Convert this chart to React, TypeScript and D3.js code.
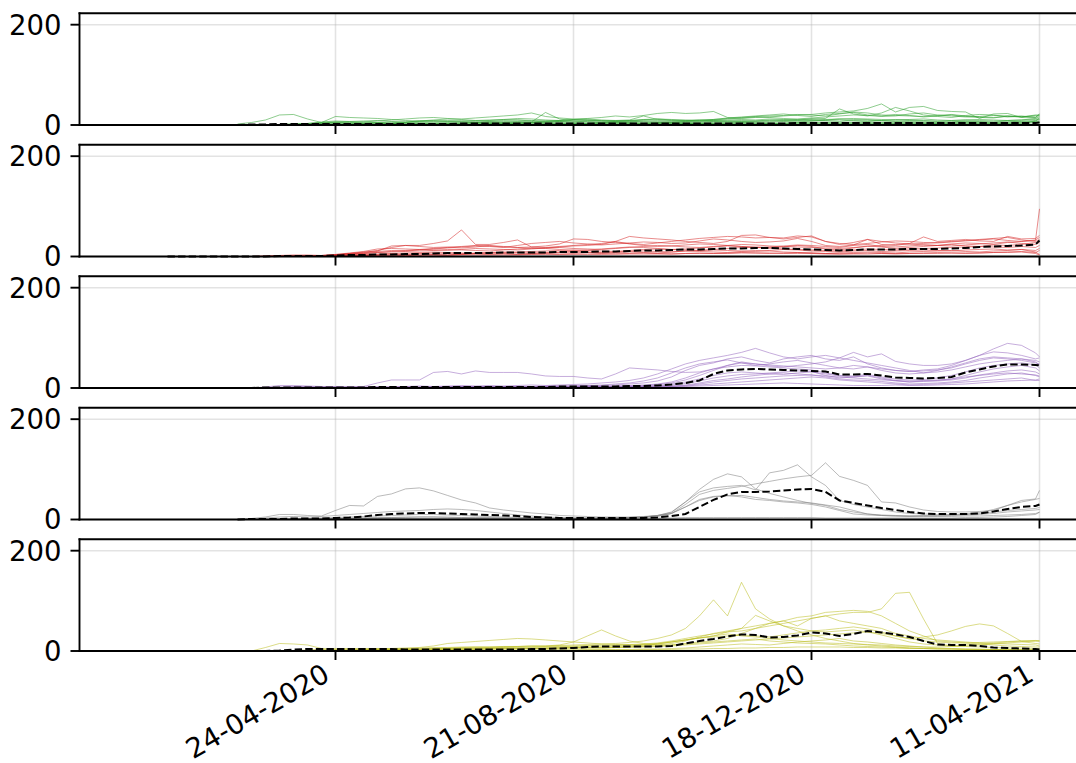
import React from "react";
import * as d3 from "d3";

// Weekly sampling dates (Fridays), with a final reading two days after the last Friday.
const weekDates = [
  "2020-01-24", "2020-01-31", "2020-02-07", "2020-02-14", "2020-02-21", "2020-02-28", "2020-03-06", "2020-03-13",
  "2020-03-20", "2020-03-27", "2020-04-03", "2020-04-10", "2020-04-17", "2020-04-24", "2020-05-01", "2020-05-08",
  "2020-05-15", "2020-05-22", "2020-05-29", "2020-06-05", "2020-06-12", "2020-06-19", "2020-06-26", "2020-07-03",
  "2020-07-10", "2020-07-17", "2020-07-24", "2020-07-31", "2020-08-07", "2020-08-14", "2020-08-21", "2020-08-28",
  "2020-09-04", "2020-09-11", "2020-09-18", "2020-09-25", "2020-10-02", "2020-10-09", "2020-10-16", "2020-10-23",
  "2020-10-30", "2020-11-06", "2020-11-13", "2020-11-20", "2020-11-27", "2020-12-04", "2020-12-11", "2020-12-18",
  "2020-12-25", "2021-01-01", "2021-01-08", "2021-01-15", "2021-01-22", "2021-01-29", "2021-02-05", "2021-02-12",
  "2021-02-19", "2021-02-26", "2021-03-05", "2021-03-12", "2021-03-19", "2021-03-26", "2021-04-02", "2021-04-09",
  "2021-04-11",
];

const tickDates = ["2020-04-24", "2020-08-21", "2020-12-18", "2021-04-11"];
const yTicks = [0, 200];

// null = no reading yet for that week
const greenSeries = [
  [null,null,null,null,null,null,2,5, 10,20,21,12,5,17,15,14, 13,11,9,8,7,7,8,9, 10,11,10,9,8,9,10,10, 9,8,9,10,9,8,9,10, 9,10,11,10,12,11,10,12, 11,12,13,12,11,10,11,12, 10,9,10,11,10,9,10,11, 12],
  [null,null,null,null,null,null,0,0, 0,1,2,3,6,8,7,6, 8,10,12,14,15,13,12,14, 16,18,20,24,17,14,12,13, 15,18,16,19,23,25,23,24, 27,15,13,15,16,18,20,21, 24,26,28,33,42,26,35,37, 29,27,26,13,22,23,15,14, 16],
  [null,null,null,null,null,null,0,0, 0,1,2,3,5,6,5,4, 5,6,5,7,8,9,8,7, 9,11,13,12,10,9,11,12, 10,9,8,10,12,11,10,9, 11,13,15,17,18,19,21,20, 18,22,26,24,20,19,18,17, 19,21,18,16,15,17,16,20, 18],
  [null,null,null,null,null,null,0,0, 0,0,1,2,3,4,3,3, 4,3,4,5,4,5,6,5, 6,5,7,6,8,7,6,7, 6,7,6,8,7,6,7,6, 7,8,9,8,10,9,8,9, 10,12,11,10,9,11,10,9, 8,9,10,9,8,9,10,13, 11],
  [null,null,null,null,null,null,0,0, 0,0,0,1,2,2,1,2, 2,3,2,3,4,3,3,4, 5,4,3,4,5,6,5,4, 5,4,5,6,5,4,5,6, 7,6,5,6,7,8,9,10, 8,7,9,10,8,7,9,8, 7,6,8,7,6,8,7,9, 8],
  [null,null,null,null,null,null,0,0, 0,0,1,2,4,6,7,8, 9,7,6,8,10,12,11,9, 8,7,6,5,6,7,8,9, 8,7,9,11,12,10,9,8, 10,12,14,16,15,13,12,14, 16,18,20,19,17,18,22,24, 20,18,16,17,19,18,17,16, 19],
  [null,null,null,null,null,null,0,0, 0,0,0,0,1,2,2,3, 2,3,4,3,2,3,4,5, 4,3,4,5,4,3,2,3, 4,5,4,3,4,5,4,3, 5,6,7,6,5,7,6,8, 9,10,8,7,9,8,7,6, 5,6,7,6,5,6,8,7, 6],
  [null,null,null,null,null,null,0,0, 0,0,0,1,3,5,4,6, 5,4,6,8,9,7,6,5, 7,9,10,8,7,9,11,10, 8,9,10,18,11,9,8,10, 11,14,16,18,20,22,19,17, 21,23,25,20,18,21,19,16, 18,20,17,15,14,18,16,19, 21],
  [null,null,null,null,null,null,0,0, 0,0,0,0,0,1,1,2, 1,2,1,2,3,2,1,2, 3,2,3,2,3,4,3,2, 3,4,3,2,3,4,3,4, 3,4,5,4,3,4,5,6, 5,4,5,6,5,4,5,4, 3,4,5,4,3,4,5,6, 5],
  [null,null,null,null,null,null,0,0, 0,0,0,0,0,0,1,1, 1,2,2,1,2,3,2,2, 3,4,5,6,25,12,8,6, 5,6,7,6,5,6,7,8, 9,8,7,8,9,10,11,12, 13,32,22,18,24,35,28,20, 17,15,19,21,20,16,18,15, 22],
  [null,null,null,null,null,null,0,0, 0,0,0,0,0,0,0,1, 1,1,1,1,1,1,1,2, 2,2,2,2,2,2,2,2, 2,2,2,3,3,3,3,3, 3,3,3,3,3,3,4,4, 4,4,4,4,4,4,4,4, 4,4,4,4,4,4,4,4, 5],
  [null,null,null,null,null,null,0,0, 0,0,0,0,0,0,0,0, 0,0,1,1,1,1,1,1, 1,1,1,1,1,1,2,2, 2,2,2,2,2,2,2,2, 2,2,2,2,3,3,3,3, 3,3,3,3,3,3,3,3, 3,3,3,3,3,3,3,8, 14],
];
const greenMean = [null,null,null,null,null,null,0,1, 1,2,2,2,2,2,2,2, 2,2,2,2,2,2,3,3, 3,3,3,3,3,3,3,3, 3,3,3,3,3,3,3,3, 3,3,3,3,3,3,4,4, 4,4,4,4,4,4,4,4, 4,4,4,4,4,4,4,4, 5];

const redSeries = [
  [0,0,0,0,0,0,0,0, 1,2,3,2,1,3,6,9, 11,21,22,22,26,31,53,24, 24,28,33,19,18,20,22,24, 26,30,25,22,20,21,23,25, 24,22,20,18,19,21,23,22, 20,18,22,24,20,19,21,23, 22,24,21,20,23,22,24,28, 30],
  [0,0,0,0,0,0,0,0, 0,1,2,3,2,4,6,8, 12,18,22,20,18,19,20,22, 21,19,18,16,17,19,21,22, 24,30,40,37,35,33,30,28, 26,30,42,43,38,35,38,41, 30,26,24,26,29,31,30,28, 27,29,31,33,35,32,30,32, 95],
  [0,0,0,0,0,0,0,0, 1,2,2,1,2,4,7,10, 15,16,15,14,16,18,17,19, 22,20,18,19,21,25,35,34, 30,28,26,24,27,30,33,36, 38,40,39,37,38,37,41,39, 30,24,28,34,30,27,25,26, 28,30,32,34,36,38,33,30, 34],
  [0,0,0,0,0,0,0,0, 0,0,1,1,1,3,5,6, 8,10,12,14,13,12,14,16, 15,14,13,15,17,18,16,15, 14,16,18,20,22,21,19,18, 20,22,24,23,21,20,19,18, 17,16,18,20,22,24,25,23, 22,21,23,25,27,29,26,24, 28],
  [0,0,0,0,0,0,0,0, 0,0,0,1,0,2,3,4, 5,6,7,8,9,8,7,6, 7,8,9,10,11,12,13,12, 11,10,12,14,15,14,13,12, 14,16,18,19,17,15,14,13, 12,11,13,15,14,13,15,16, 17,18,19,20,19,18,20,18, 22],
  [0,0,0,0,0,0,0,0, 0,0,0,0,1,2,3,3, 4,5,4,6,7,6,5,7, 8,9,8,7,8,9,10,9, 8,9,10,11,10,9,11,12, 13,12,11,10,12,14,13,11, 10,9,11,12,10,11,12,13, 12,11,13,14,15,13,14,12, 16],
  [0,0,0,0,0,0,0,0, 0,0,0,0,0,1,2,2, 3,3,2,3,4,3,4,5, 4,5,4,5,6,5,6,7, 6,5,6,7,6,5,6,7, 6,7,8,7,6,7,8,7, 6,5,6,7,6,5,6,7, 8,7,6,7,8,9,10,8, 12],
  [0,0,0,0,0,0,0,0, 0,0,0,1,2,3,5,7, 10,12,11,13,15,17,19,21, 20,18,22,26,28,30,27,25, 23,25,27,29,28,26,27,31, 35,33,30,28,29,31,36,30, 22,20,23,34,24,22,26,39, 30,32,34,31,30,40,35,36, 42],
  [0,0,0,0,0,0,0,0, 0,0,0,0,0,0,1,2, 2,3,4,5,4,3,5,6, 7,6,5,6,7,8,9,8, 7,8,9,8,7,9,11,10, 9,8,10,12,11,9,8,7, 6,7,8,9,8,7,9,10, 11,12,10,9,11,12,14,9, 4],
  [0,0,0,0,0,0,0,0, 0,0,0,0,1,2,4,6, 8,9,10,11,12,14,13,12, 11,13,15,17,16,14,12,13, 15,17,19,18,16,14,15,17, 19,21,20,18,17,19,22,20, 15,13,17,21,19,16,18,20, 22,25,27,26,24,28,30,33, 38],
  [0,0,0,0,0,0,0,0, 0,0,0,0,0,0,0,1, 1,1,2,2,2,2,3,3, 3,3,3,4,4,4,4,4, 4,5,5,5,5,5,6,6, 6,6,7,7,7,6,6,6, 5,5,5,5,6,6,6,6, 6,7,7,7,8,8,9,6, 3],
];
const redMean = [null,0,0,0,0,0,0,0, 0,1,1,1,1,2,3,3, 4,4,5,5,6,7,7,7, 7,8,8,8,8,9,9,9, 10,10,11,12,12,13,14,14, 15,16,16,17,17,16,15,14, 13,12,13,14,14,14,15,15, 15,16,17,19,20,21,22,24, 32];

const purpleSeries = [
  [null,null,null,null,null,null,null,0, 2,5,5,4,3,3,3,3, 10,16,16,16,31,33,28,34, 31,31,31,28,24,23,23,20, 18,28,40,38,36,33,31,32, 38,45,50,48,46,44,42,40, 38,40,45,42,38,35,33,34, 36,40,48,55,60,58,55,50, 48],
  [null,null,null,null,null,null,null,0, 1,2,3,3,2,2,1,2, 3,2,3,4,3,4,5,4, 5,4,5,6,5,6,7,8, 10,12,15,20,28,38,48,55, 60,65,71,79,70,62,58,62, 65,60,71,62,68,53,48,45, 45,48,55,65,78,89,85,70, 62],
  [null,null,null,null,null,null,null,0, 0,1,2,2,1,1,1,1, 1,2,2,1,2,2,3,3, 2,3,3,2,3,4,4,5, 6,8,10,14,20,30,40,48, 52,56,50,45,48,52,55,50, 45,40,38,42,35,30,28,30, 35,42,50,58,62,60,58,55, 52],
  [null,null,null,null,null,null,null,0, 0,0,1,1,1,1,1,1, 1,1,1,2,2,2,2,2, 2,2,2,2,3,3,3,3, 3,4,5,6,8,12,20,30, 38,42,45,44,42,40,38,36, 30,25,24,27,22,18,16,17, 20,25,32,40,45,48,50,46, 40],
  [null,null,null,null,null,null,null,0, 0,0,0,1,1,1,0,1, 1,1,1,1,1,1,2,2, 2,2,1,1,2,2,2,2, 2,3,3,4,5,8,12,18, 25,30,32,30,28,27,30,32, 28,24,22,25,20,15,12,14, 15,18,25,32,38,42,45,40, 34],
  [null,null,null,null,null,null,null,0, 0,0,0,0,1,1,1,1, 1,1,1,1,1,1,1,1, 1,1,1,1,1,1,2,2, 2,2,3,3,4,6,9,14, 20,24,27,28,30,32,34,33, 25,20,22,24,18,14,12,13, 14,16,20,26,30,34,36,32, 28],
  [null,null,null,null,null,null,null,0, 0,0,0,0,0,0,0,0, 0,1,1,1,1,1,1,1, 1,1,1,1,1,1,1,1, 2,2,2,3,3,4,6,10, 15,18,22,25,28,30,28,26, 22,18,16,15,13,10,8,9, 10,12,15,20,24,28,30,25, 22],
  [null,null,null,null,null,null,null,0, 0,0,0,0,0,0,0,0, 0,0,0,0,0,0,1,1, 1,1,1,1,1,1,1,1, 1,1,2,2,2,3,4,6, 8,10,12,14,16,18,20,22, 20,16,14,12,10,8,6,7, 8,10,12,14,16,18,20,15, 15],
  [null,null,null,null,null,null,null,0, 0,1,1,1,0,0,1,1, 1,1,2,2,2,2,3,3, 3,3,3,3,4,4,4,5, 5,6,8,10,14,22,35,45, 50,58,62,55,50,58,62,65, 58,55,62,48,40,35,33,36, 38,45,55,65,72,70,65,58, 60],
  [null,null,null,null,null,null,null,0, 0,0,0,0,0,0,0,0, 0,0,0,1,1,1,1,1, 1,1,1,1,1,1,1,1, 1,1,1,1,2,3,5,8, 12,15,18,20,22,24,25,26, 24,22,20,18,16,15,14,15, 16,18,22,25,28,30,28,26, 24],
  [null,null,null,null,null,null,null,0, 0,0,0,0,0,0,1,1, 1,1,1,1,1,2,2,2, 2,2,2,2,2,2,2,3, 3,3,4,5,7,10,16,25, 35,45,52,48,44,42,45,48, 52,60,55,50,45,40,35,30, 32,36,42,48,52,55,58,52, 46],
  [null,null,null,null,null,null,null,0, 0,0,0,0,0,0,0,0, 0,0,0,0,0,1,1,1, 1,1,1,1,1,1,1,1, 1,1,1,1,1,2,3,4, 5,6,7,8,9,10,9,8, 7,6,5,5,5,6,5,5, 6,7,8,10,12,14,15,16, 18],
];
const purpleMean = [null,null,null,null,null,null,null,0, 1,1,1,1,1,1,1,1, 2,2,2,2,2,2,2,2, 2,2,2,2,2,3,3,3, 3,3,4,4,5,7,10,15, 28,35,37,38,37,36,35,34, 33,27,27,28,25,21,20,19, 20,22,31,37,43,47,47,46, 45];

const graySeries = [
  [null,null,null,null,null,null,0,2, 5,10,10,8,7,18,28,27, 46,51,61,63,57,48,39,33, 23,19,16,13,11,8,7,6, 5,5,5,6,8,12,25,40, 46,48,45,40,38,35,33,30, 25,18,11,9,8,7,7,8, 8,9,10,12,15,18,20,22, 24],
  [null,null,null,null,null,null,0,1, 3,5,6,5,6,8,10,12, 14,16,17,18,20,21,20,18, 15,12,9,7,5,4,3,3, 3,3,4,5,8,14,35,55, 63,66,68,59,93,98,109,85, 68,38,30,25,20,15,12,11, 10,10,11,14,20,28,35,40, 42],
  [null,null,null,null,null,null,0,0, 0,1,2,2,3,4,5,6, 7,8,9,10,10,9,8,7, 6,5,4,4,3,3,3,3, 3,3,4,5,7,12,30,50, 58,62,66,71,76,81,85,88, 113,86,78,68,35,33,25,19, 16,15,15,16,18,28,38,41, 58],
  [null,null,null,null,null,null,0,0, 0,0,1,1,2,2,3,3, 4,4,5,5,5,4,4,3, 3,3,2,2,2,2,2,2, 3,3,4,5,8,15,35,60, 80,91,85,61,52,45,38,32, 28,20,15,11,8,7,6,6, 6,6,7,7,8,9,10,12, 14],
  [null,null,null,null,null,null,0,0, 0,0,0,1,1,2,2,3, 3,4,4,5,5,5,4,4, 4,3,3,3,2,2,2,2, 2,3,3,4,6,12,25,38, 45,47,48,44,40,37,35,33, 29,25,18,11,9,8,7,7, 7,8,9,10,12,15,17,19, 20],
  [null,null,null,null,null,null,0,0, 0,0,0,1,1,1,1,2, 2,2,2,2,2,2,2,2, 2,2,2,2,2,2,2,2, 2,2,3,3,3,3,4,4, 4,4,4,4,4,4,4,4, 3,3,3,3,3,3,3,3, 3,3,4,4,5,6,8,10, 15],
];
const grayMean = [null,null,null,null,null,null,0,1, 1,1,2,2,2,3,4,6, 9,11,12,13,13,12,11,10, 9,8,7,5,4,3,3,3, 3,3,3,3,4,7,11,25, 39,50,55,55,56,58,60,61, 55,38,33,28,23,19,15,12, 11,11,11,12,16,21,25,27, 30];

const oliveSeries = [
  [0,0,0,0,0,0,0,0, 7,15,14,12,5,5,5,5, 5,5,5,7,10,15,17,19, 21,23,25,24,22,20,18,16, 14,13,12,12,14,18,22,26, 30,34,30,28,25,22,20,18, 16,15,14,13,12,10,9,8, 8,9,10,12,14,16,18,20, 20],
  [0,0,0,0,0,0,0,0, 0,0,1,2,3,3,4,4, 5,5,6,6,7,7,8,8, 8,9,9,10,10,11,12,13, 14,15,17,20,25,32,45,70, 102,70,137,84,64,50,40,32, 25,20,15,12,10,8,6,5, 4,4,3,3,2,2,2,2, 2],
  [0,0,0,0,0,0,0,0, 0,0,0,1,1,2,2,2, 3,3,4,4,5,5,6,6, 7,7,8,8,9,10,10,11, 12,12,13,14,16,20,25,30, 34,38,40,45,50,55,60,65, 70,74,77,77,84,115,117,64, 15,10,12,14,16,18,20,20, 20],
  [0,0,0,0,0,0,0,0, 0,0,0,0,1,1,1,2, 2,2,3,3,3,4,4,4, 5,5,5,6,6,7,7,8, 6,7,8,10,12,15,20,28, 35,40,45,50,55,60,67,70, 77,79,81,79,70,55,40,30, 20,18,16,14,12,10,9,8, 8],
  [0,0,0,0,0,0,0,0, 0,0,1,1,2,2,2,3, 3,3,4,4,5,5,5,6, 6,7,7,8,8,9,9,10, 10,11,12,13,15,18,22,26, 28,30,32,30,28,32,36,40, 42,45,48,44,38,30,24,28, 32,40,49,54,50,35,19,15, 14],
  [0,0,0,0,0,0,0,0, 0,0,0,0,0,1,1,1, 2,2,2,3,3,3,4,4, 4,5,5,5,6,6,7,7, 8,9,10,12,14,18,22,26, 30,38,45,71,60,50,45,40, 38,40,42,38,32,25,18,14, 12,10,9,8,7,6,6,5, 5],
  [0,0,0,0,0,0,0,0, 0,0,0,0,1,1,2,2, 3,3,4,4,5,6,7,8, 8,9,9,10,10,12,18,30, 42,30,20,15,12,12,14,16, 18,20,22,24,20,18,16,15, 14,12,10,9,8,7,6,5, 5,4,4,3,3,2,2,2, 2],
  [0,0,0,0,0,0,0,0, 0,0,0,0,0,0,1,1, 1,1,2,2,2,3,3,3, 4,4,4,5,5,5,6,6, 6,7,8,9,10,12,15,18, 20,25,35,45,55,60,50,65, 70,60,55,50,45,35,30,25, 22,20,18,16,15,14,13,12, 10],
  [0,0,0,0,0,0,0,0, 0,0,0,0,0,0,0,0, 0,1,1,1,1,1,1,1, 1,1,1,1,2,2,2,2, 2,2,2,3,3,3,4,4, 5,5,6,6,7,7,8,8, 8,8,7,7,6,6,5,5, 4,4,3,3,3,2,2,2, 1],
  [0,0,0,0,0,0,0,0, 0,0,0,0,0,0,1,1, 1,2,2,2,3,3,3,4, 4,4,5,5,5,6,6,6, 7,7,8,8,9,10,12,14, 16,18,20,22,24,26,28,30, 32,34,36,38,35,30,25,20, 18,16,16,17,18,19,20,21, 20],
  [0,0,0,0,0,0,0,0, 0,0,0,0,0,0,0,0, 0,0,0,0,1,1,1,1, 1,1,2,2,2,2,2,3, 3,3,3,4,4,5,6,8, 10,12,14,13,12,15,18,20, 22,25,20,18,15,12,10,8, 6,5,4,4,3,3,3,2, 1],
];
const oliveMean = [null,0,0,0,0,0,0,0, 0,1,3,4,4,4,4,4, 4,4,3,3,3,3,3,3, 3,3,3,4,4,5,6,8, 9,9,9,9,9,10,15,20, 24,29,33,32,27,28,31,37, 35,30,34,40,37,33,28,20, 13,12,12,10,7,6,5,4, 3];

const panels = [
  { series: greenSeries, mean: greenMean, color: "#2ca02c" },
  { series: redSeries, mean: redMean, color: "#d62728" },
  { series: purpleSeries, mean: purpleMean, color: "#9467bd" },
  { series: graySeries, mean: grayMean, color: "#7f7f7f" },
  { series: oliveSeries, mean: oliveMean, color: "#bcbd22" },
];

const parseDate = d3.timeParse("%Y-%m-%d");
const fmtDate = d3.timeFormat("%d-%m-%Y");

const WIDTH = 1076;
const HEIGHT = 763;
const LEFT = 79.5;
const RIGHT = 1085.5;
const TOP0 = 13.3;
const PANEL_H = 111.7;
const PANEL_STEP = 131.5;
const Y_MAX = 222.7;
const FONT = "'DejaVu Sans', sans-serif";
const FONT_SIZE = 27.5;
const SPINE_W = 1.9;

export default function App() {
  const dates = weekDates.map((d) => parseDate(d) as Date);
  const ticks = tickDates.map((d) => parseDate(d) as Date);
  const x = d3
    .scaleTime()
    .domain([parseDate("2019-12-18") as Date, parseDate("2021-05-04") as Date])
    .range([LEFT, RIGHT]);

  return (
    <svg
      width={WIDTH}
      height={HEIGHT}
      viewBox={`0 0 ${WIDTH} ${HEIGHT}`}
      style={{ position: "absolute", left: 0, top: 0, background: "#fff" }}
    >
      {panels.map((panel, p) => {
        const top = TOP0 + p * PANEL_STEP;
        const bottom = top + PANEL_H;
        const y = d3.scaleLinear().domain([0, Y_MAX]).range([bottom, top]);
        const line = d3
          .line<number | null>()
          .defined((v) => v != null)
          .x((_, i) => x(dates[i]))
          .y((v) => y(v as number));
        const isLast = p === panels.length - 1;
        return (
          <g key={p}>
            {/* grid */}
            {ticks.map((t, i) => (
              <line
                key={`gx${i}`}
                x1={x(t)}
                x2={x(t)}
                y1={top}
                y2={bottom}
                stroke="#b0b0b0"
                strokeOpacity={0.35}
                strokeWidth={1.6}
              />
            ))}
            {yTicks.map((v, i) => (
              <line
                key={`gy${i}`}
                x1={LEFT}
                x2={RIGHT}
                y1={y(v)}
                y2={y(v)}
                stroke="#b0b0b0"
                strokeOpacity={0.35}
                strokeWidth={1.6}
              />
            ))}
            {/* individual series */}
            {panel.series.map((s, i) => (
              <path
                key={`s${i}`}
                d={line(s) || ""}
                fill="none"
                stroke={panel.color}
                strokeOpacity={0.6}
                strokeWidth={0.9}
                strokeLinejoin="round"
              />
            ))}
            {/* mean */}
            <path
              d={line(panel.mean) || ""}
              fill="none"
              stroke="#000"
              strokeWidth={2}
              strokeDasharray="7.4 3.2"
            />
            {/* spines */}
            <line x1={LEFT} x2={LEFT} y1={top} y2={bottom} stroke="#000" strokeWidth={SPINE_W} strokeLinecap="square" />
            <line x1={LEFT} x2={RIGHT} y1={top} y2={top} stroke="#000" strokeWidth={SPINE_W} strokeLinecap="square" />
            <line x1={LEFT} x2={RIGHT} y1={bottom} y2={bottom} stroke="#000" strokeWidth={SPINE_W} strokeLinecap="square" />
            <line x1={RIGHT} x2={RIGHT} y1={top} y2={bottom} stroke="#000" strokeWidth={SPINE_W} />
            {/* y ticks */}
            {yTicks.map((v, i) => (
              <g key={`yt${i}`}>
                <line x1={LEFT - 9} x2={LEFT} y1={y(v)} y2={y(v)} stroke="#000" strokeWidth={SPINE_W} />
                <text
                  x={LEFT - 18}
                  y={y(v)}
                  dy="0.36em"
                  textAnchor="end"
                  fontFamily={FONT}
                  fontSize={FONT_SIZE}
                  fill="#000"
                >
                  {v}
                </text>
              </g>
            ))}
            {/* x ticks */}
            {ticks.map((t, i) => (
              <line
                key={`xt${i}`}
                x1={x(t)}
                x2={x(t)}
                y1={bottom}
                y2={bottom + 9}
                stroke="#000"
                strokeWidth={SPINE_W}
              />
            ))}
            {isLast &&
              ticks.map((t, i) => (
                <text
                  key={`xl${i}`}
                  transform={`translate(${x(t) - 4},${bottom + 28.5}) rotate(-30)`}
                  textAnchor="end"
                  fontFamily={FONT}
                  fontSize={FONT_SIZE}
                  fill="#000"
                >
                  {fmtDate(t)}
                </text>
              ))}
          </g>
        );
      })}
    </svg>
  );
}
